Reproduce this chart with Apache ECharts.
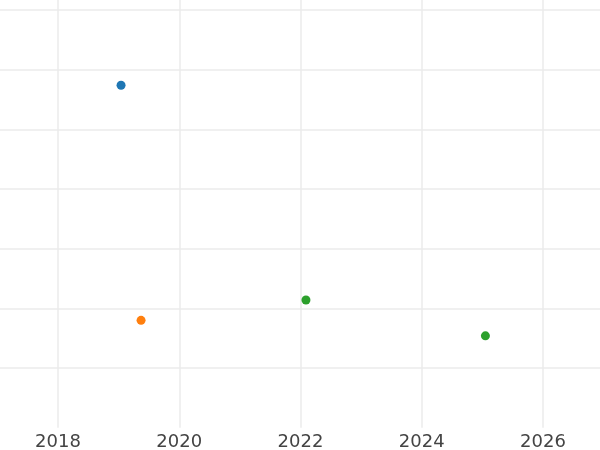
<!DOCTYPE html>
<html>
<head>
<meta charset="utf-8">
<script src="https://cdn.jsdelivr.net/npm/echarts@6/dist/echarts.min.js"></script>
<style>
  html, body { margin: 0; padding: 0; background: #ffffff; }
  #chart { width: 600px; height: 450px; }
</style>
</head>
<body>
<div id="chart"></div>
<script>
// year (decimal) and value for each point, one array pair per series
const seriesNames = ['A', 'B', 'C'];
const seriesColors = ['#1f77b4', '#ff7f0e', '#2ca02c'];
const xA = [2019.04];
const yA = [4.74];
const xB = [2019.37];
const yB = [0.80];
const xC = [2022.09, 2025.05];
const yC = [1.14, 0.54];

const xs = [xA, xB, xC];
const ys = [yA, yB, yC];

const chart = echarts.init(document.getElementById('chart'));

const option = {
    backgroundColor: '#ffffff',
    animation: false,
    grid: {
        left: -63.25,
        right: 0,
        top: 0,
        bottom: 22.3,
        outerBoundsMode: 'none',
        containLabel: false
    },
    xAxis: {
        type: 'value',
        min: 2016,
        max: 2026.94,
        interval: 2,
        axisLine: { show: false },
        axisTick: { show: false },
        axisLabel: {
            show: true,
            margin: 6,
            fontSize: 18,
            fontFamily: 'DejaVu Sans',
            color: '#444444',
            formatter: function (v) { return String(v); }
        },
        splitLine: {
            show: true,
            showMinLine: false,
            showMaxLine: false,
            lineStyle: { color: '#ebebeb', width: 1.5 }
        }
    },
    yAxis: {
        type: 'value',
        min: -1,
        max: 6.17,
        interval: 1,
        axisLine: { show: false },
        axisTick: { show: false },
        axisLabel: { show: false },
        splitLine: {
            show: true,
            showMinLine: false,
            showMaxLine: false,
            lineStyle: { color: '#ebebeb', width: 1.5 }
        }
    },
    series: seriesNames.map(function (name, i) {
        return {
            name: name,
            type: 'scatter',
            symbol: 'circle',
            symbolSize: 9,
            itemStyle: { color: seriesColors[i], opacity: 1 },
            data: xs[i].map(function (x, j) { return [x, ys[i][j]]; })
        };
    })
};

chart.setOption(option);
</script>
</body>
</html>
